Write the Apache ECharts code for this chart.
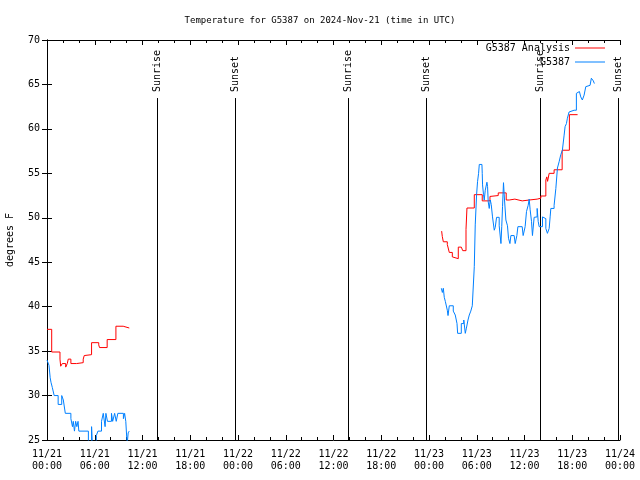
<!DOCTYPE html>
<html><head><meta charset="utf-8">
<script src="https://cdn.jsdelivr.net/npm/echarts@6/dist/echarts.min.js"></script>
<style>html,body{margin:0;padding:0;background:#fff}#c{width:640px;height:480px}</style>
</head><body><div id="c"></div>
<script>
// Hours since 2024-11-21 00:00 UTC
const startMonth = 11;
const startDay = 21;
const xMin = 0, xMax = 72, xStep = 6;
const yMin = 25, yMax = 70, yStep = 5;

// G5387 Analysis (red), day 1 segment
const analysisHoursA = [0, 0.59, 1.63, 1.72, 1.92, 2.35, 2.55, 2.67, 3.0, 3.72, 3.85, 4.55, 4.68, 4.9, 5.6, 6.5, 6.6, 7.56, 8.66, 9.57, 10.34];
const analysisTempsA = [37.45, 34.9, 34.1, 33.3, 33.6, 33.2, 33.6, 34.1, 33.6, 33.4, 33.7, 34.1, 34.5, 34.6, 35.95, 35.7, 35.4, 36.3, 37.8, 37.6, 37.6];
// G5387 Analysis (red), day 3 segment
const analysisHoursB = [49.59, 49.67, 49.8, 50.3, 50.55, 50.93, 51.18, 51.68, 52.06, 52.24, 52.65, 52.77, 53.69, 54.69, 55.66, 55.91, 56.7, 57.7, 58.08, 58.79, 59.71, 60.59, 61.59, 62.05, 62.68, 62.8, 62.9, 63.1, 63.72, 64.73, 65.64, 66.67];
const analysisTempsB = [48.5, 47.9, 47.3, 47.0, 46.1, 45.6, 45.4, 46.7, 46.5, 46.3, 48.7, 51.1, 52.6, 51.9, 52.4, 52.5, 52.8, 52.0, 52.1, 51.9, 52.0, 52.1, 52.2, 52.45, 54.25, 54.6, 54.1, 55.0, 55.4, 57.6, 61.6, 61.6];

// G5387 station (blue), day 1 segment
const stationHoursA = [0, 0.25, 0.4, 0.5, 0.67, 0.9, 1.4, 1.85, 2.05, 2.3, 3.0, 3.2, 3.3, 3.45, 3.6, 3.75, 3.9, 4.0, 5.2, 5.6, 5.7, 6.2, 6.4, 6.85, 7.07, 7.3, 7.4, 7.6, 8.1, 8.25, 8.5, 8.7, 8.9, 9.6, 9.75, 9.9, 10.07, 10.2, 10.33];
const stationTempsA = [34.0, 33.4, 32.0, 31.5, 30.9, 30.0, 29.0, 30.0, 29.5, 28.0, 27.4, 26.5, 27.1, 26.0, 27.1, 26.5, 27.1, 26.0, 24.5, 26.5, 24.5, 25.5, 26.0, 27.1, 28.0, 26.5, 28.0, 27.1, 28.0, 27.1, 28.0, 27.1, 28.0, 27.4, 28.0, 27.1, 24.5, 25.8, 26.0];
// G5387 station (blue), day 3 segment
const stationHoursB = [49.55, 49.68, 49.8, 49.92, 50.05, 50.3, 50.39, 50.55, 51.05, 51.3, 51.52, 51.6, 52.06, 52.37, 52.56, 52.68, 52.9, 53.06, 53.25, 53.44, 53.6, 53.69, 53.81, 53.98, 54.1, 54.23, 54.32, 54.65, 54.69, 54.73, 54.85, 54.94, 55.07, 55.28, 55.36, 55.44, 55.57, 55.7, 55.82, 55.98, 56.2, 56.32, 56.49, 56.7, 56.82, 57.04, 57.14, 57.24, 57.36, 57.49, 57.66, 57.86, 57.99, 58.17, 58.29, 58.7, 58.83, 59.04, 59.17, 59.71, 59.83, 60.08, 60.25, 60.46, 60.59, 60.71, 60.88, 61.0, 61.21, 61.43, 61.59, 61.72, 61.84, 62.03, 62.26, 62.47, 62.68, 62.88, 63.1, 63.22, 63.31, 63.56, 63.72, 63.94, 64.14, 64.35, 64.56, 64.76, 64.98, 65.1, 65.27, 65.39, 65.6, 65.82, 66.23, 66.52, 66.65, 66.9, 67.07, 67.27, 67.49, 67.7, 67.9, 68.24, 68.4, 68.53, 68.65, 68.78];
const stationTempsB = [42.07, 41.6, 42.07, 41.05, 40.6, 39.6, 39.0, 40.1, 39.5, 39.06, 38.1, 37.0, 38.1, 38.5, 37.0, 37.5, 38.5, 39.06, 39.5, 40.1, 40.0, 44.5, 49.2, 52.6, 54.06, 55.0, 56.0, 56.0, 55.0, 53.7, 52.6, 52.0, 53.1, 54.0, 53.5, 51.8, 51.05, 52.0, 51.5, 50.1, 48.6, 48.9, 50.05, 50.05, 49.1, 47.1, 49.0, 51.25, 53.95, 52.0, 49.75, 49.1, 47.7, 47.1, 48.0, 48.0, 47.1, 48.0, 49.0, 49.0, 48.0, 49.0, 50.7, 51.4, 52.1, 50.9, 49.6, 48.0, 50.05, 50.1, 51.05, 49.6, 49.0, 49.0, 50.1, 49.9, 48.8, 48.25, 48.8, 50.1, 51.05, 51.05, 51.4, 53.3, 55.6, 56.3, 57.1, 57.6, 59.3, 60.25, 60.6, 61.2, 61.9, 62.1, 62.1, 64.0, 64.2, 64.2, 63.6, 63.25, 63.8, 64.75, 64.9, 64.9, 65.7, 65.9, 65.4, 65.1];

// Sun events
const sunHours = [13.8, 23.58, 37.88, 47.67, 61.97, 71.72];
const sunLabels = ['Sunrise', 'Sunset', 'Sunrise', 'Sunset', 'Sunrise', 'Sunset'];
const sunLineTopValue = 63.47;

const FONT = '"DejaVu Sans Mono", "Liberation Mono", monospace';
const pairs = (hs, vs) => hs.map((h, i) => [h, vs[i]]);
const pad = n => (n < 10 ? '0' : '') + n;
function fmtHour(h) {
  const d = startDay + Math.floor(h / 24);
  const hr = Math.round(h % 24);
  return startMonth + '/' + pad(d) + '\n' + pad(hr) + ':00';
}

const chart = echarts.init(document.getElementById('c'), null, {renderer: 'canvas'});
const grid = {left: 47, top: 40, width: 573, height: 400, show: false, containLabel: false, outerBoundsMode: 'none'};
const lineSeries = (name, color, data) => ({
  name, type: 'line', data, step: 'end', showSymbol: false, symbol: 'none',
  lineStyle: {color, width: 1}, itemStyle: {color}, clip: true, animation: false, z: 3
});

chart.setOption({
  animation: false,
  backgroundColor: '#fff',
  title: {
    text: 'Temperature for G5387 on 2024-Nov-21 (time in UTC)',
    left: 'center', top: 11,
    textStyle: {fontFamily: FONT, fontSize: 9, fontWeight: 'normal', color: '#000'}
  },
  legend: {
    data: ['G5387 Analysis', 'G5387'],
    orient: 'vertical', right: 30, top: 37, align: 'right',
    icon: 'rect', itemWidth: 30, itemHeight: 1, itemGap: 2,
    textStyle: {fontFamily: FONT, fontSize: 10, color: '#000', lineHeight: 12}
  },
  grid,
  xAxis: [{
    type: 'value', min: xMin, max: xMax, interval: xStep,
    axisLine: {show: true, lineStyle: {color: '#000', width: 1}},
    axisTick: {show: true, inside: true, length: 5, lineStyle: {color: '#000'}},
    minorTick: {show: true, splitNumber: 3, length: 3, lineStyle: {color: '#000'}},
    splitLine: {show: false},
    axisLabel: {formatter: fmtHour, fontFamily: FONT, fontSize: 10, color: '#000', lineHeight: 12, margin: 8, showMinLabel: true, showMaxLabel: true}
  }, {
    type: 'value', position: 'top', min: xMin, max: xMax, interval: xStep,
    axisLine: {show: true, lineStyle: {color: '#000', width: 1}},
    axisTick: {show: true, inside: true, length: 5, lineStyle: {color: '#000'}},
    minorTick: {show: true, splitNumber: 3, length: 3, lineStyle: {color: '#000'}},
    splitLine: {show: false}, axisLabel: {show: false}
  }],
  yAxis: [{
    type: 'value', min: yMin, max: yMax, interval: yStep,
    name: 'degrees F', nameLocation: 'middle', nameGap: 32, nameRotate: 90,
    nameTextStyle: {fontFamily: FONT, fontSize: 10, color: '#000'},
    axisLine: {show: true, lineStyle: {color: '#000', width: 1}},
    axisTick: {show: true, inside: true, length: 5, lineStyle: {color: '#000'}},
    splitLine: {show: false},
    axisLabel: {fontFamily: FONT, fontSize: 10, color: '#000', margin: 7}
  }, {
    type: 'value', position: 'right', min: yMin, max: yMax, interval: yStep,
    axisLine: {show: true, lineStyle: {color: '#000', width: 1}},
    axisTick: {show: true, inside: true, length: 5, lineStyle: {color: '#000'}},
    splitLine: {show: false}, axisLabel: {show: false}
  }],
  series: [
    {
      type: 'custom', name: 'sun', silent: true, z: 2,
      data: sunHours.map(h => [h, yMin]),
      encode: {x: 0, y: 1},
      renderItem: function (params, api) {
        const h = api.value(0);
        const top = api.coord([h, sunLineTopValue]);
        const bot = api.coord([h, yMin]);
        const x = Math.round(top[0]) + 0.5;
        return {
          type: 'group',
          children: [
            {type: 'line', shape: {x1: x, y1: top[1], x2: x, y2: bot[1]}, style: {stroke: '#000', lineWidth: 1}},
            {type: 'text', x: x, y: top[1] - 6, rotation: Math.PI / 2,
             style: {text: sunLabels[params.dataIndex], fill: '#000', font: '10px ' + FONT, align: 'left', verticalAlign: 'middle'}}
          ]
        };
      }
    },
    lineSeries('G5387 Analysis', '#ff0000', pairs(analysisHoursA, analysisTempsA)),
    lineSeries('G5387 Analysis', '#ff0000', pairs(analysisHoursB, analysisTempsB)),
    lineSeries('G5387', '#0080ff', pairs(stationHoursA, stationTempsA)),
    lineSeries('G5387', '#0080ff', pairs(stationHoursB, stationTempsB))
  ]
});
</script></body></html>
